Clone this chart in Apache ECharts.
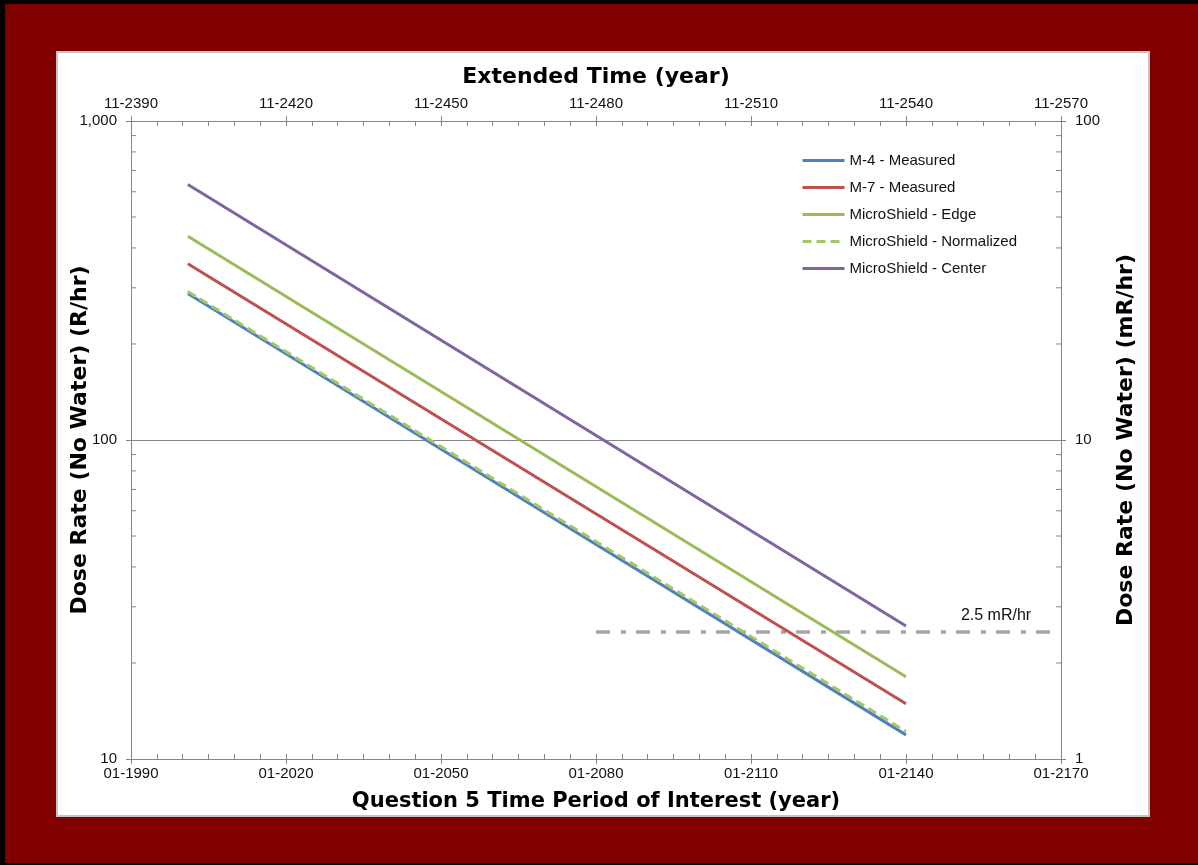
<!DOCTYPE html>
<html>
<head>
<meta charset="utf-8">
<script src="https://cdn.jsdelivr.net/npm/echarts@6/dist/echarts.min.js"></script>
<style>
  html, body { margin: 0; padding: 0; background: #000; width: 1198px; height: 865px; overflow: hidden; }
  #frame { position: absolute; left: 5px; top: 4px; width: 1193px; height: 859px; background: #800000; }
  #panel { position: absolute; left: 56px; top: 51px; width: 1094px; height: 766px; background: #fff; border: 2px solid #C4C4C4; box-sizing: border-box; }
  #chart { position: absolute; left: 0; top: 0; width: 1198px; height: 865px; }
</style>
</head>
<body>
<div id="frame"></div>
<div id="panel"></div>
<div id="chart"></div>
<script>
// ---- data ----
const baseYear = 1990;            // bottom axis origin (01-1990)
const years = [2001, 2140];
const m4Measured = [288, 11.9];
const m7Measured = [357, 14.9];
const msEdge = [435, 18.1];
const msNormalized = [292, 12.2];
const msCenter = [632, 26.1];
const limitYears = [2080, 2170];
const limitValue = [2.5, 2.5];    // mR/hr (right axis)
const limitLabel = '2.5 mR/hr';

const bottomTickLabels = ['01-1990', '01-2020', '01-2050', '01-2080', '01-2110', '01-2140', '01-2170'];
const topTickLabels = ['11-2390', '11-2420', '11-2450', '11-2480', '11-2510', '11-2540', '11-2570'];
const leftTickLabels = { 10: '10', 100: '100', 1000: '1,000' };
const rightTickLabels = { 1: '1', 10: '10', 100: '100' };
const yMinorTicks = [20, 30, 40, 50, 60, 70, 80, 90, 200, 300, 400, 500, 600, 700, 800, 900];

const seriesNames = ['M-4 - Measured', 'M-7 - Measured', 'MicroShield - Edge', 'MicroShield - Normalized', 'MicroShield - Center'];
const colors = ['#4F81BD', '#C0504D', '#9BBB59', '#A5C766', '#8064A2'];
const seriesValues = [m4Measured, m7Measured, msEdge, msNormalized, msCenter];

// ---- chart ----
const FONT = "'Liberation Sans', Arial, sans-serif";
const TITLE_FONT = "'DejaVu Sans', 'Liberation Sans', Arial, sans-serif";
const axisGray = '#868686';
const pairs = (xs, ys) => xs.map((x, i) => [x - baseYear, ys[i]]);

const chart = echarts.init(document.getElementById('chart'), null, { renderer: 'canvas' });

const lineSeries = seriesNames.map((name, i) => ({
  name: name,
  type: 'line',
  xAxisIndex: 0,
  yAxisIndex: 0,
  data: pairs(years, seriesValues[i]),
  showSymbol: false,
  symbol: 'none',
  z: i === 3 ? 4 : 3,
  lineStyle: {
    color: colors[i],
    width: 3,
    type: i === 3 ? [9, 5] : 'solid',
    cap: 'butt'
  },
  itemStyle: { color: colors[i] }
}));

const limitData = pairs(limitYears, limitValue).map(p => ({ value: p, label: { show: false } }));
limitData[1].label = {
  show: true,
  formatter: limitLabel,
  position: 'top',
  distance: 4,
  offset: [-65, -4],
  color: '#111',
  fontFamily: FONT,
  fontSize: 16
};

const titleStyle = { fontSize: 22, fontWeight: 'bold', color: '#000', fontFamily: TITLE_FONT };

const option = {
  animation: false,
  backgroundColor: 'transparent',
  textStyle: { fontFamily: FONT },
  grid: { left: 131, right: 137, top: 121, bottom: 106, containLabel: false },
  legend: {
    data: seriesNames,
    orient: 'vertical',
    left: 801,
    top: 153,
    padding: 0,
    itemWidth: 42,
    itemHeight: 14,
    itemGap: 12,
    itemStyle: { opacity: 0 },
    lineStyle: { width: 3 },
    textStyle: { fontFamily: FONT, fontSize: 15, color: '#111' },
    selectedMode: false
  },
  xAxis: [
    {
      type: 'value', position: 'bottom', min: 0, max: 180, interval: 30,
      axisLine: { show: true, onZero: false, lineStyle: { color: axisGray, width: 1 } },
      axisTick: { show: true, inside: false, length: 5, lineStyle: { color: axisGray } },
      axisLabel: { color: '#111', fontSize: 15, fontFamily: FONT, margin: 7,
        formatter: v => bottomTickLabels[Math.round(v / 30)] },
      splitLine: { show: false },
      name: 'Question 5 Time Period of Interest (year)',
      nameLocation: 'middle', nameGap: 32, nameMoveOverlap: false,
      nameTextStyle: Object.assign({}, titleStyle, { fontSize: 21 })
    },
    {
      type: 'value', position: 'top', min: 0, max: 180, interval: 30,
      axisLine: { show: true, onZero: false, lineStyle: { color: axisGray, width: 1 } },
      axisTick: { show: true, inside: false, length: 5, lineStyle: { color: axisGray } },
      axisLabel: { color: '#111', fontSize: 15, fontFamily: FONT, margin: 10,
        formatter: v => topTickLabels[Math.round(v / 30)] },
      splitLine: { show: false },
      name: 'Extended Time (year)',
      nameLocation: 'middle', nameGap: 33, nameMoveOverlap: false,
      nameTextStyle: titleStyle
    },
    {
      type: 'value', position: 'bottom', min: 0, max: 180, interval: 5,
      axisLine: { show: false, onZero: false },
      axisTick: { show: true, inside: true, length: 5, lineStyle: { color: axisGray } },
      axisLabel: { show: false }, splitLine: { show: false }
    },
    {
      type: 'value', position: 'top', min: 0, max: 180, interval: 5,
      axisLine: { show: false, onZero: false },
      axisTick: { show: true, inside: true, length: 5, lineStyle: { color: axisGray } },
      axisLabel: { show: false }, splitLine: { show: false }
    }
  ],
  yAxis: [
    {
      type: 'log', logBase: 10, min: 10, max: 1000, position: 'left',
      axisLine: { show: true, onZero: false, lineStyle: { color: axisGray, width: 1 } },
      axisTick: { show: true, inside: false, length: 5, lineStyle: { color: axisGray } },
      axisLabel: { color: '#111', fontSize: 15, fontFamily: FONT, margin: 14,
        formatter: v => leftTickLabels[Math.round(v)] || '' },
      splitLine: { show: true, lineStyle: { color: axisGray, width: 1 } },
      name: 'Dose Rate (No Water) (R/hr)',
      nameLocation: 'middle', nameGap: 40, nameRotate: 90, nameMoveOverlap: false,
      nameTextStyle: titleStyle
    },
    {
      type: 'log', logBase: 10, min: 1, max: 100, position: 'right',
      axisLine: { show: true, onZero: false, lineStyle: { color: axisGray, width: 1 } },
      axisTick: { show: true, inside: false, length: 5, lineStyle: { color: axisGray } },
      axisLabel: { color: '#111', fontSize: 15, fontFamily: FONT, margin: 14,
        formatter: v => rightTickLabels[Math.round(v)] || '' },
      splitLine: { show: false },
      name: 'Dose Rate (No Water) (mR/hr)',
      nameLocation: 'middle', nameGap: 54, nameRotate: 90, nameMoveOverlap: false,
      nameTextStyle: titleStyle
    }
  ],
  series: lineSeries.concat([
    {
      name: 'limit',
      type: 'line',
      xAxisIndex: 0,
      yAxisIndex: 1,
      data: limitData,
      showSymbol: true,
      symbol: 'circle',
      symbolSize: 1,
      itemStyle: { color: 'rgba(0,0,0,0)' },
      z: 2,
      lineStyle: { color: '#A6A6A6', width: 3.5, type: [14, 11, 5, 10], cap: 'butt' }
    },
    {
      name: 'yMinorTicks',
      type: 'custom',
      xAxisIndex: 0,
      yAxisIndex: 0,
      silent: true,
      clip: false,
      z: 1,
      data: yMinorTicks.map(v => [0, v]),
      renderItem: function (params, api) {
        const v = api.value(1);
        const l = api.coord([0, v]);
        const r = api.coord([180, v]);
        const st = { stroke: axisGray, lineWidth: 1 };
        return {
          type: 'group',
          children: [
            { type: 'line', shape: { x1: l[0], y1: l[1], x2: l[0] + 5, y2: l[1] }, style: st },
            { type: 'line', shape: { x1: r[0] - 5, y1: r[1], x2: r[0], y2: r[1] }, style: st }
          ]
        };
      }
    }
  ])
};

chart.setOption(option);
</script>
</body>
</html>
